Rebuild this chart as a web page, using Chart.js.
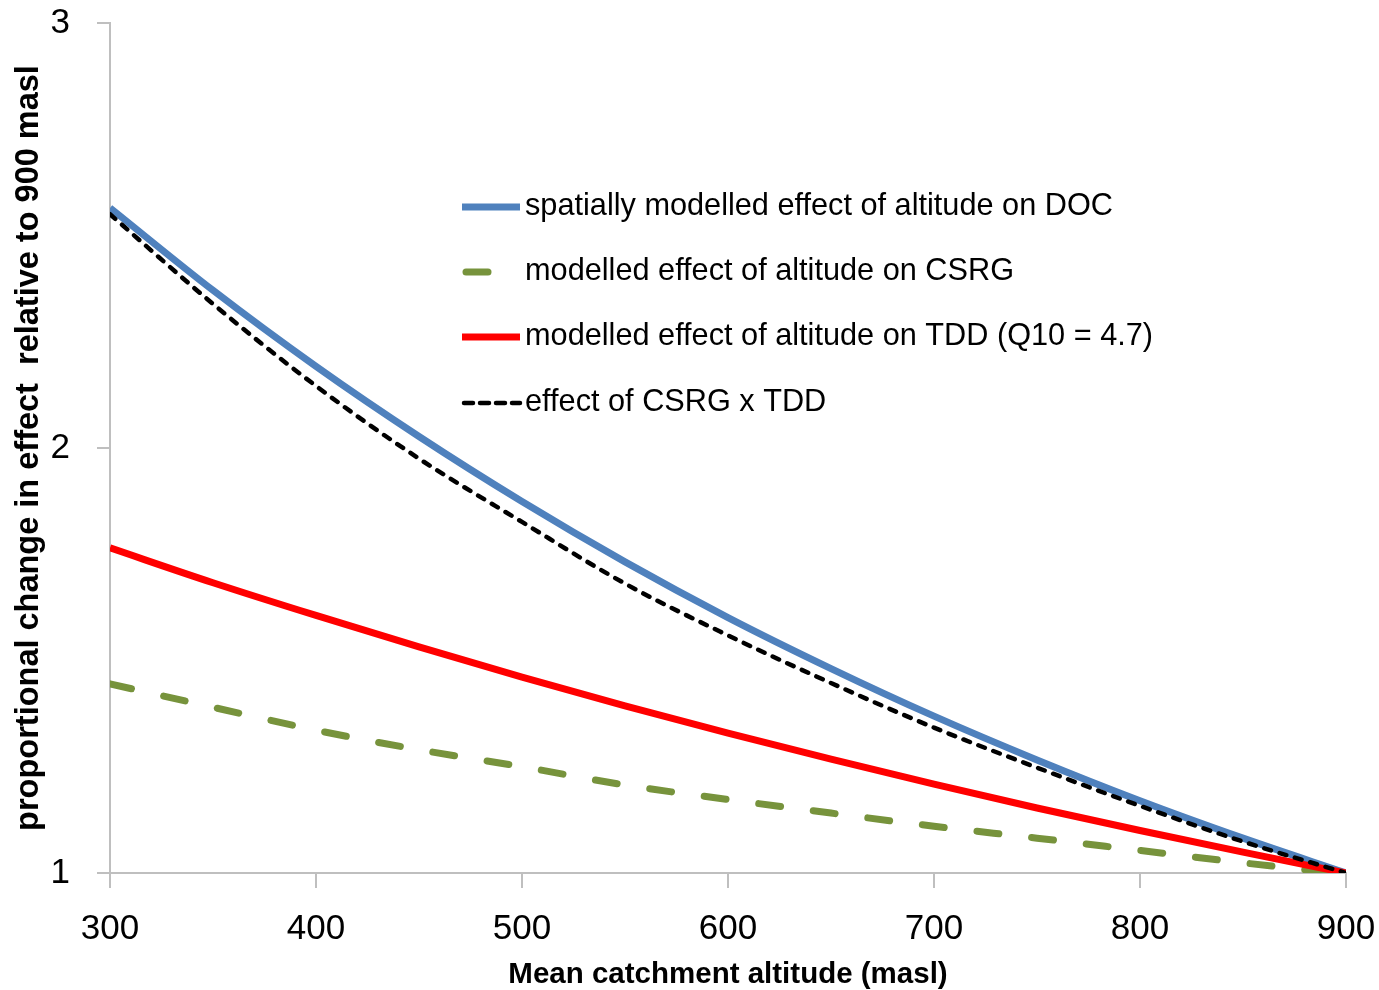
<!DOCTYPE html>
<html><head><meta charset="utf-8">
<script src="https://cdn.jsdelivr.net/npm/chart.js@4/dist/chart.umd.min.js"></script>
<style>html,body{margin:0;padding:0;background:#fff}#wrap{width:1379px;height:990px}</style>
</head><body><div id="wrap"><canvas id="c" width="1379" height="990"></canvas></div>
<script>
const altitudes = [300,350,400,450,500,550,600,650,700,750,800,850,900];
const docEffect = [2.565,2.371,2.192,2.027,1.874,1.732,1.601,1.481,1.369,1.266,1.170,1.082,1.000];
const csrgEffect = [1.445,1.390,1.336,1.290,1.250,1.207,1.173,1.141,1.110,1.082,1.053,1.024,0.997];
const tddEffect = [1.765,1.683,1.606,1.532,1.461,1.393,1.329,1.268,1.209,1.153,1.100,1.049,1.000];
const csrgTddEffect = [2.550,2.339,2.146,1.975,1.826,1.681,1.559,1.447,1.342,1.248,1.158,1.074,1.000];
const xTicks = [300,400,500,600,700,800,900];
const yTicks = [1,2,3];
const seriesLabels = [
  'spatially modelled effect of altitude on DOC',
  'modelled effect of altitude on CSRG',
  'modelled effect of altitude on TDD (Q10 = 4.7)',
  'effect of CSRG x TDD'
];
const xTitle = 'Mean catchment altitude (masl)';
const yTitle = 'proportional change in effect  relative to 900 masl';

function pts(vals){ return altitudes.map((a,i)=>({x:a,y:vals[i]})); }

const legendPlugin = {
  id: 'innerLegend',
  afterDraw(chart){
    const ctx = chart.ctx;
    const rows = [207,272,337,403];
    const x0 = 462, x1 = 520, tx = 525;
    chart.data.datasets.forEach((ds,i)=>{
      const y = rows[i];
      ctx.save();
      ctx.strokeStyle = ds.borderColor;
      ctx.lineWidth = ds.borderWidth;
      ctx.lineCap = ds.borderCapStyle || 'butt';
      if (ds.legendDash) ctx.setLineDash(ds.legendDash);
      ctx.beginPath();
      ctx.moveTo(x0 + (ds.legendInset||0), y);
      ctx.lineTo(ds.legendEnd || x1, y);
      ctx.stroke();
      ctx.restore();
      ctx.save();
      ctx.fillStyle = '#000';
      ctx.font = '30.7px "Liberation Sans", Arial, sans-serif';
      ctx.textBaseline = 'middle';
      ctx.textAlign = 'left';
      ctx.fillText(ds.label, tx, y);
      ctx.restore();
    });
  }
};

new Chart(document.getElementById('c'), {
  type: 'line',
  data: {
    datasets: [
      {label: seriesLabels[0], data: pts(docEffect), borderColor: '#4F81BD', borderWidth: 7, pointRadius: 0, cubicInterpolationMode: 'monotone', order: 2, legendEnd: 520},
      {label: seriesLabels[1], data: pts(csrgEffect), borderColor: '#77933C', borderWidth: 7, borderDash: [22,33], borderCapStyle: 'round', pointRadius: 0, cubicInterpolationMode: 'monotone', order: 3, legendInset: 4, legendEnd: 488},
      {label: seriesLabels[2], data: pts(tddEffect), borderColor: '#FF0000', borderWidth: 7, pointRadius: 0, cubicInterpolationMode: 'monotone', order: 1, legendEnd: 520},
      {label: seriesLabels[3], data: pts(csrgTddEffect), borderColor: '#000000', borderWidth: 4.5, borderDash: [7,9], borderCapStyle: 'round', pointRadius: 0, cubicInterpolationMode: 'monotone', order: 0, legendDash: [9,7], legendInset: 2, legendEnd: 520}
    ]
  },
  options: {
    responsive: false,
    devicePixelRatio: 1,
    animation: false,
    layout: {padding: {top: 23, right: 33, left: 0, bottom: 0}},
    plugins: {legend: {display: false}, tooltip: {enabled: false}},
    scales: {
      x: {
        type: 'linear', min: 300, max: 900,
        afterBuildTicks: s => { s.ticks = xTicks.map(v=>({value:v})); },
        afterFit: s => { s.height = 117; s.paddingLeft = 0; s.paddingRight = 0; },
        ticks: {color: '#000', font: {family: '"Liberation Sans", Arial, sans-serif', size: 35}, padding: 20, maxRotation: 0},
        grid: {drawOnChartArea: false, drawTicks: true, tickLength: 15, color: '#BFBFBF', lineWidth: 2},
        border: {color: '#BFBFBF', width: 2},
        title: {display: true, text: xTitle, color: '#000', font: {family: '"Liberation Sans", Arial, sans-serif', size: 29.5, weight: 'bold'}, padding: {top: 0, bottom: -3}}
      },
      y: {
        type: 'linear', min: 1, max: 3,
        afterBuildTicks: s => { s.ticks = yTicks.map(v=>({value:v})); },
        afterFit: s => { s.width = 110; s.paddingTop = 0; s.paddingBottom = 0; },
        ticks: {color: '#000', font: {family: '"Liberation Sans", Arial, sans-serif', size: 35}, padding: 27},
        grid: {drawOnChartArea: false, drawTicks: true, tickLength: 13, color: '#BFBFBF', lineWidth: 2},
        border: {color: '#BFBFBF', width: 2},
        title: {display: true, text: yTitle, color: '#000', font: {family: '"Liberation Sans", Arial, sans-serif', size: 32.5, weight: 'bold'}, padding: {top: 10, bottom: 0}}
      }
    }
  },
  plugins: [legendPlugin]
});
</script></body></html>
